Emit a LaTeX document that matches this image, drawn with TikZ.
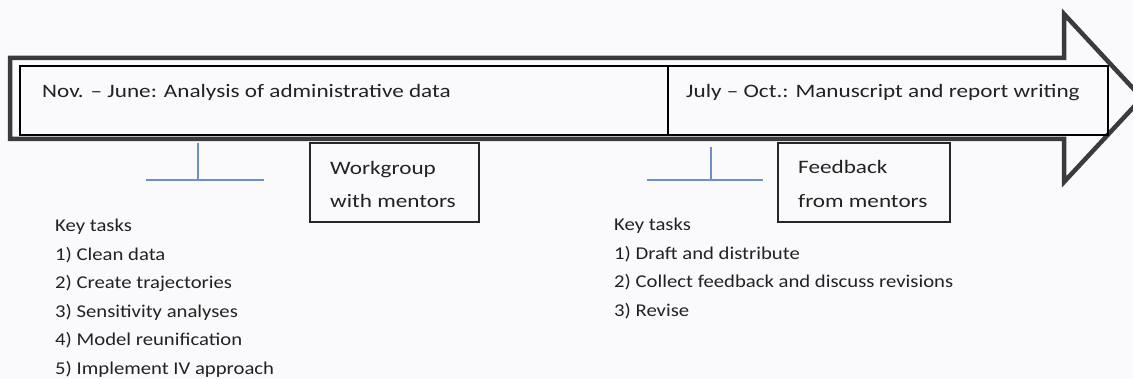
\documentclass[tikz,border=0pt]{standalone}
\usepackage{fontspec}
\setmainfont{Carlito}
\newfontfamily\widehead[FakeStretch=1.22]{Carlito}
\newfontfamily\widelist[FakeStretch=1.15]{Carlito}
\definecolor{arrowgray}{HTML}{3C3A3C}
\definecolor{tlblue}{HTML}{6F8FC8}
\definecolor{txt}{HTML}{222222}
\definecolor{bg}{HTML}{FAFAFC}
\begin{document}
\begin{tikzpicture}[x=1pt,y=-1pt,
  phasebox/.style={draw=black,line width=1.1pt},
  headtxt/.style={anchor=base west,inner sep=0pt,text=txt,font=\widehead\fontsize{19}{22}\selectfont},
  notebox/.style={draw=black!85,line width=1.1pt},
  listtxt/.style={anchor=base west,inner sep=0pt,text=txt,font=\widelist\fontsize{18}{22}\selectfont},
  tline/.style={draw=tlblue,line width=1.4pt}]
\fill[bg] (0,0) rectangle (1133,379);
\useasboundingbox (0,0) rectangle (1133,379);
% big arrow
\draw[arrowgray,line width=4.5pt,line join=miter]
  (10,58) -- (1064,58) -- (1064,14) -- (1142,98) -- (1064,182) -- (1064,139) -- (10,139) -- cycle;
% phase boxes
\draw[phasebox] (20,66) rectangle (668,135);
\draw[phasebox] (668,66) rectangle (1108,135);
\node[headtxt] (p1) at (42,98) {Nov. – June: Analysis of administrative data};
\node[headtxt] (p2) at (686,98) {July – Oct.: Manuscript and report writing};
% blue T markers
\coordinate (t1top) at (198,143);
\coordinate (t1bot) at (198,180);
\coordinate (t1l) at (146,180);
\coordinate (t1r) at (264,180);
\draw[tline] (t1top) -- (t1bot);
\draw[tline] (t1l) -- (t1r);
\coordinate (t2top) at (711,147);
\coordinate (t2bot) at (711,180);
\coordinate (t2l) at (647,180);
\coordinate (t2r) at (763,180);
\draw[tline] (t2top) -- (t2bot);
\draw[tline] (t2l) -- (t2r);
% mentor boxes
\draw[notebox] (310,143) rectangle (479,222);
\node[headtxt] (w1) at (330,175) {Workgroup};
\node[headtxt] (w2) at (330,208) {with mentors};
\draw[notebox] (778,143) rectangle (950,222);
\node[headtxt] (f1) at (798,174) {Feedback};
\node[headtxt] (f2) at (798,208) {from mentors};
% task lists
\foreach \t [count=\i] in {Key tasks,{1) Clean data},{2) Create trajectories},{3) Sensitivity analyses},{4) Model reunification},{5) Implement IV approach}}
  \node[listtxt] (la\i) at (55,{232+28.5*(\i-1)}) {\t};
\foreach \t [count=\i] in {Key tasks,{1) Draft and distribute},{2) Collect feedback and discuss revisions},{3) Revise}}
  \node[listtxt] (lb\i) at (614,{231+28.5*(\i-1)}) {\t};
\end{tikzpicture}
\end{document}
